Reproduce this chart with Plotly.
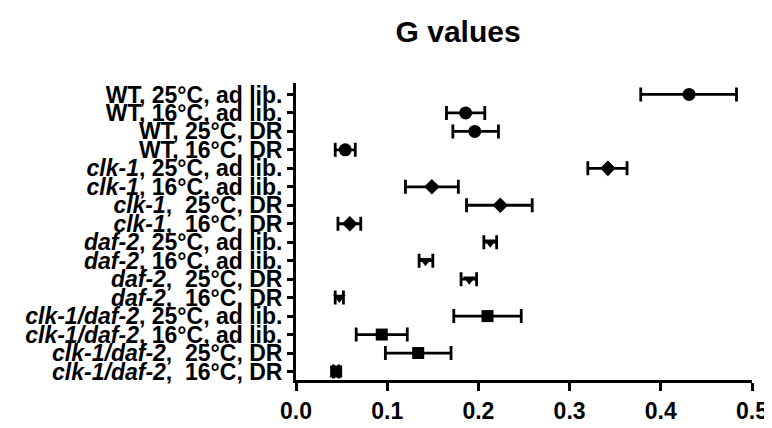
import plotly.graph_objects as go

labels = [
    "WT, 25°C, ad lib.", "WT, 16°C, ad lib.", "WT, 25°C, DR", "WT, 16°C, DR",
    "<i>clk-1</i>, 25°C, ad lib.", "<i>clk-1</i>, 16°C, ad lib.",
    "<i>clk-1</i>,\u00a0 25°C, DR", "<i>clk-1</i>,\u00a0 16°C, DR",
    "<i>daf-2</i>, 25°C, ad lib.", "<i>daf-2</i>, 16°C, ad lib.",
    "<i>daf-2</i>,\u00a0 25°C, DR", "<i>daf-2</i>,\u00a0 16°C, DR",
    "<i>clk-1/daf-2</i>, 25°C, ad lib.", "<i>clk-1/daf-2</i>, 16°C, ad lib.",
    "<i>clk-1/daf-2</i>,\u00a0 25°C, DR", "<i>clk-1/daf-2</i>,\u00a0 16°C, DR",
]
g_values = [0.431, 0.186, 0.196, 0.054, 0.342, 0.149, 0.224, 0.059,
            0.213, 0.142, 0.190, 0.0475, 0.210, 0.094, 0.134, 0.044]
g_low = [0.378, 0.165, 0.172, 0.043, 0.320, 0.120, 0.187, 0.046,
         0.206, 0.135, 0.181, 0.043, 0.173, 0.066, 0.098, 0.041]
g_high = [0.483, 0.207, 0.222, 0.065, 0.363, 0.178, 0.259, 0.071,
          0.220, 0.150, 0.198, 0.052, 0.247, 0.122, 0.170, 0.047]
x_ticks = [0.0, 0.1, 0.2, 0.3, 0.4, 0.5]

groups = [
    (range(0, 4), "circle", 13),
    (range(4, 8), "diamond", 12),
    (range(8, 12), "triangle-down", 11),
    (range(12, 16), "square", 12),
]

fig = go.Figure()
for idx, sym, size in groups:
    idx = list(idx)
    fig.add_trace(go.Scatter(
        x=[g_values[i] for i in idx],
        y=idx,
        mode="markers",
        marker=dict(symbol=sym, size=size, color="black"),
        error_x=dict(
            type="data", symmetric=False,
            array=[g_high[i] - g_values[i] for i in idx],
            arrayminus=[g_values[i] - g_low[i] for i in idx],
            color="black", thickness=2.8, width=7,
        ),
        showlegend=False,
    ))

fig.update_layout(
    width=772, height=428,
    margin=dict(l=288, r=18, t=75, b=41),
    paper_bgcolor="white", plot_bgcolor="white",
    title=dict(text="G values", x=0.583, xref="container", xanchor="center",
               y=0.944, yref="container", yanchor="middle",
               font=dict(family="Liberation Sans", size=30, color="black", weight="bold")),
    font=dict(family="Liberation Sans", color="black"),
)
fig.update_xaxes(
    range=[0, 0.5], tickvals=x_ticks, tickformat=".1f",
    showgrid=False, zeroline=False,
    showline=True, linecolor="black", linewidth=3,
    ticks="outside", ticklen=8, tickwidth=3, tickcolor="black",
    tickfont=dict(family="Liberation Sans", size=23, color="black", weight="bold"),
)
fig.update_yaxes(
    range=[15.46, -0.62], tickvals=list(range(len(labels))), ticktext=labels,
    showgrid=False, zeroline=False,
    showline=True, linecolor="black", linewidth=3,
    ticks="outside", ticklen=6, tickwidth=3, tickcolor="black",
    tickfont=dict(family="Liberation Sans", size=23, color="black", weight="bold"),
)

fig.write_html("out.html")
